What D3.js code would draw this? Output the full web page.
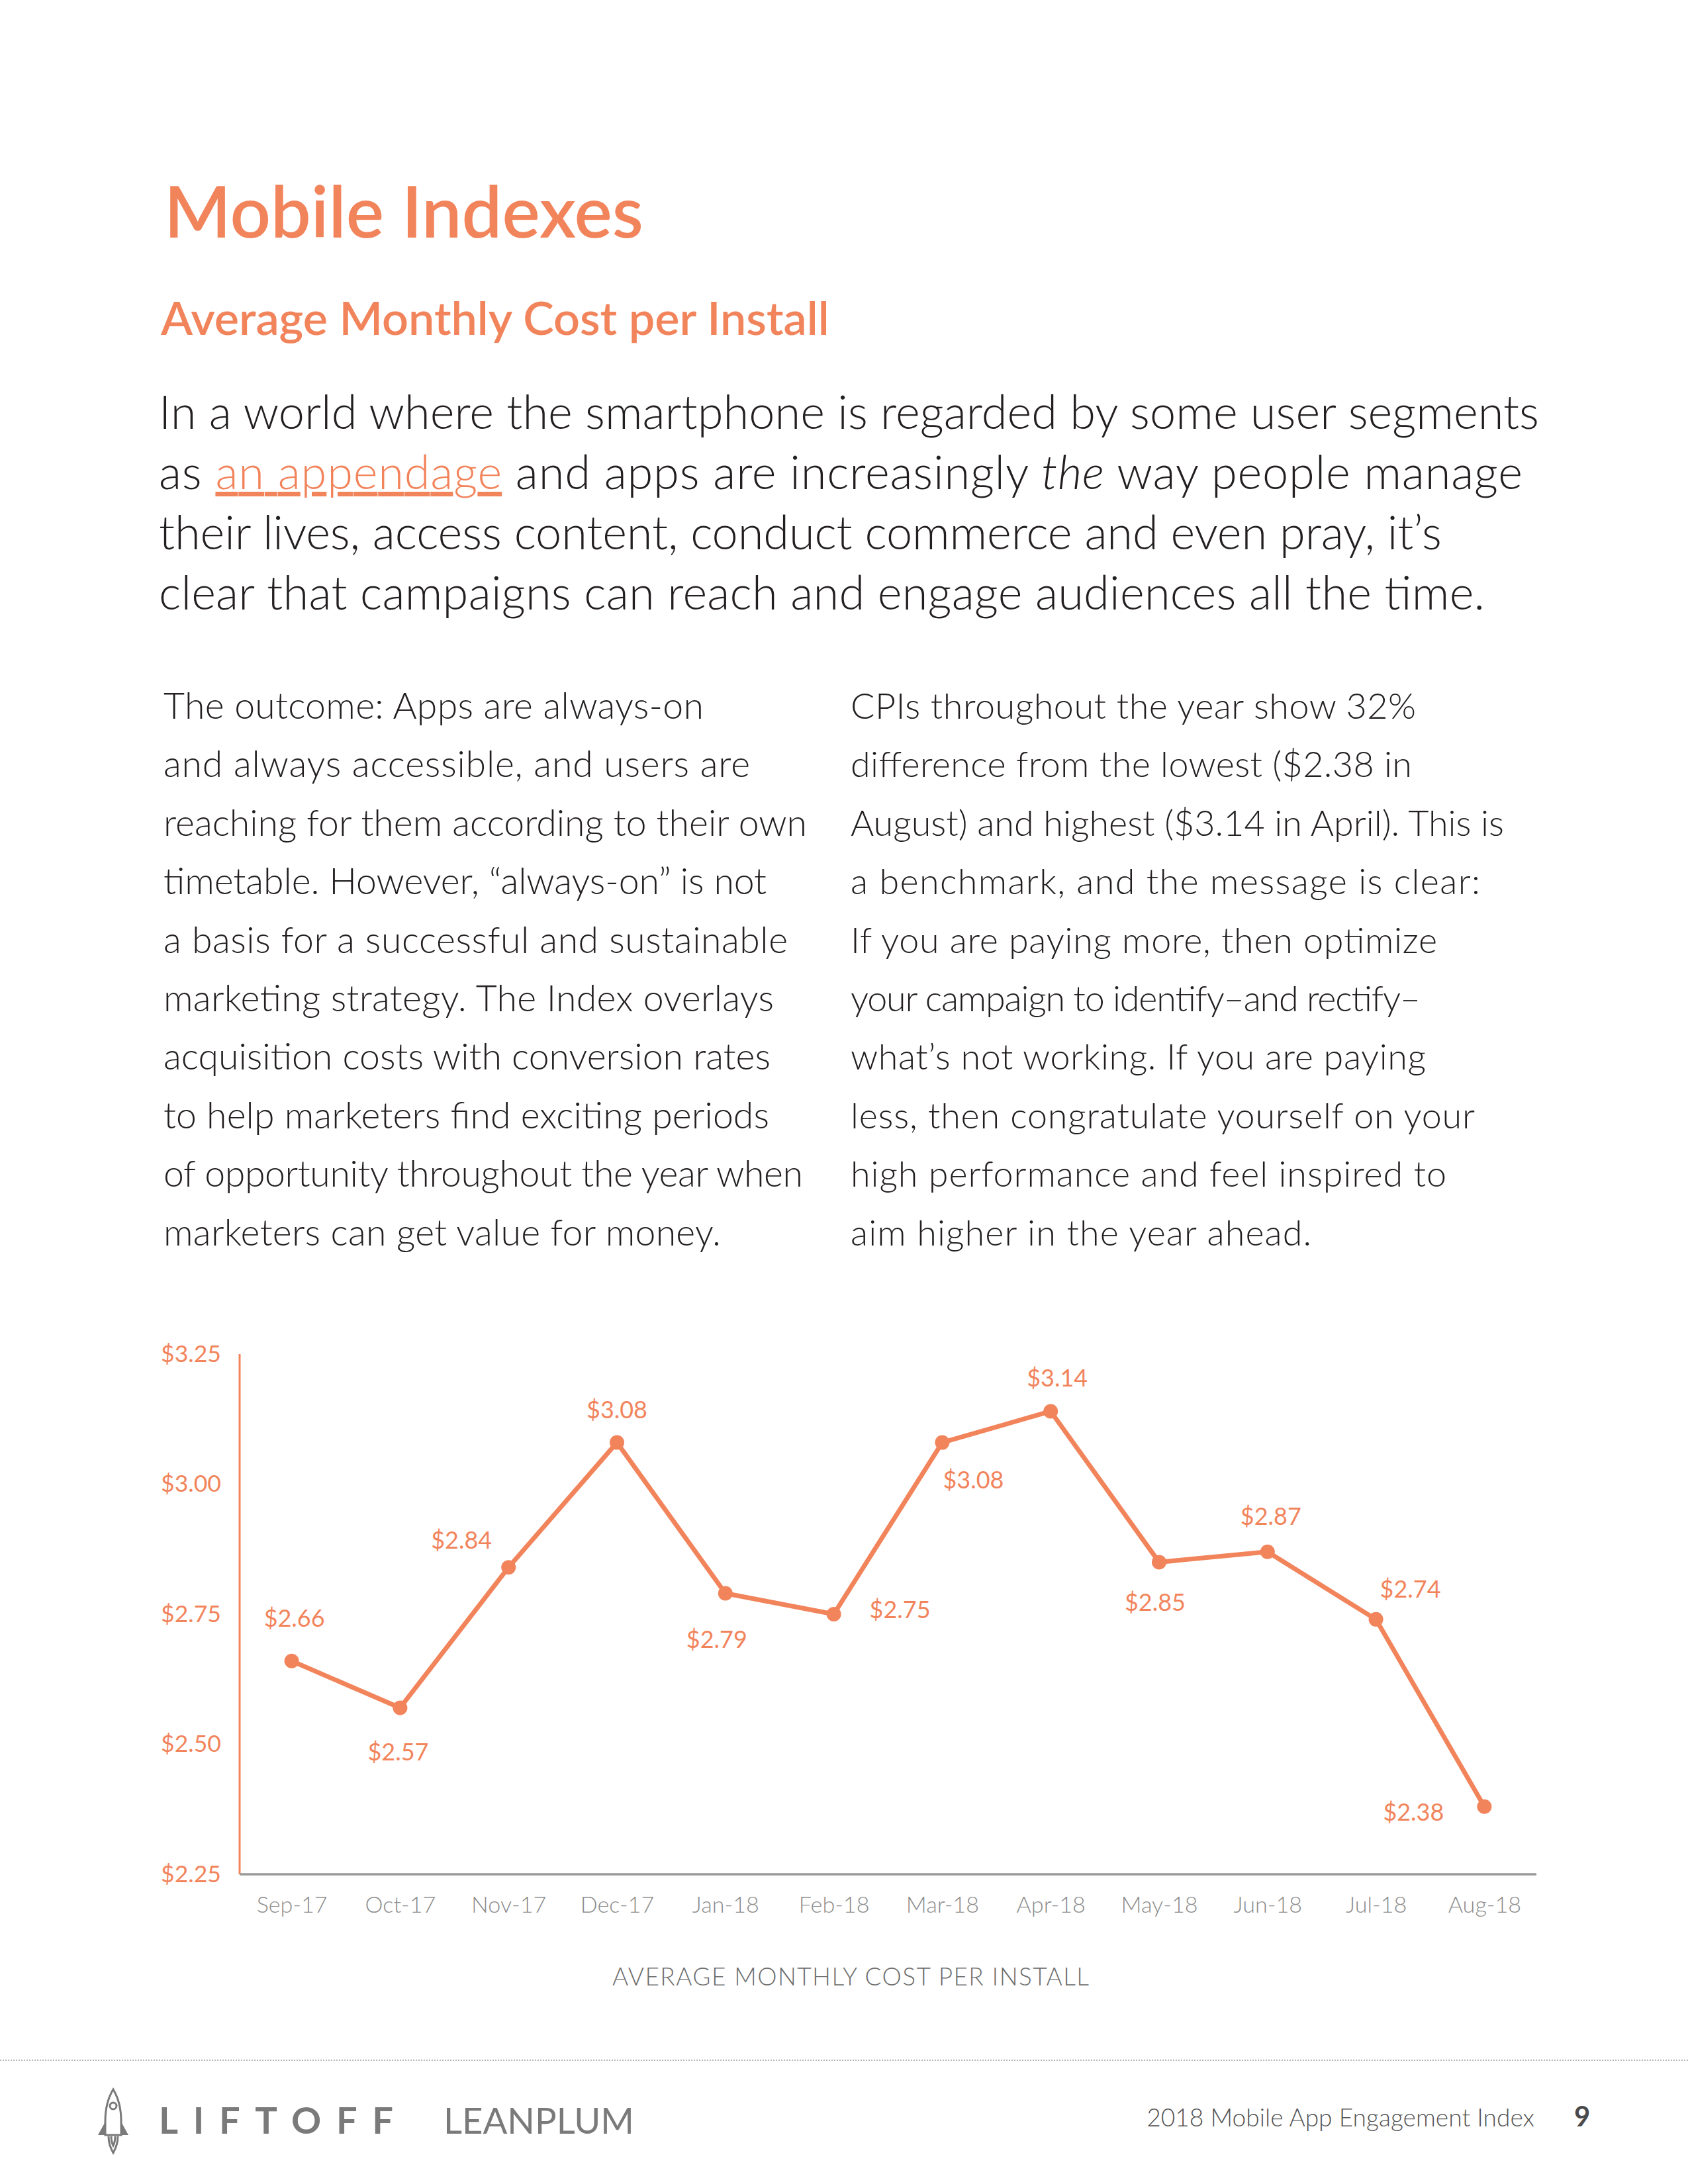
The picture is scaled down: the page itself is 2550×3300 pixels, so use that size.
<!DOCTYPE html>
<html>
<head>
<meta charset="utf-8">
<script src="https://cdn.jsdelivr.net/npm/d3@7"></script>
<style>
  html, body { margin: 0; padding: 0; background: #ffffff; }
  svg { display: block; }
</style>
</head>
<body>
<svg id="page" width="2550" height="3300"></svg>
<script>
// ---------- data ----------
const months = ["Sep-17", "Oct-17", "Nov-17", "Dec-17", "Jan-18", "Feb-18",
                "Mar-18", "Apr-18", "May-18", "Jun-18", "Jul-18", "Aug-18"];
const cpi = [2.66, 2.57, 2.84, 3.08, 2.79, 2.75, 3.08, 3.14, 2.85, 2.87, 2.74, 2.38];
const yTicks = [2.25, 2.50, 2.75, 3.00, 3.25];
const yDomain = [2.25, 3.25];
const axisTitle = "AVERAGE MONTHLY COST PER INSTALL";

// label placement relative to each point (layout, not data)
const labelOffsets = [[4, -52], [-3, 80], [-71, -28], [0, -37], [-13, 82], [100, 6],
                      [47, 69], [10, -37], [-6, 74], [5, -41], [52, -33], [-107, 21]];

// ---------- text content ----------
const pageTitle = "Mobile Indexes";
const pageSubtitle = "Average Monthly Cost per Install";
const introLines = [
  [{t: "In a world where the smartphone is regarded by some user segments"}],
  [{t: "as "}, {t: "an appendage", link: true}, {t: " and apps are increasingly "}, {t: "the", italic: true}, {t: " way people manage"}],
  [{t: "their lives, access content, conduct commerce and even pray, it\u2019s"}],
  [{t: "clear that campaigns can reach and engage audiences all the time."}]
];
const leftCol = [
  "The outcome: Apps are always-on",
  "and always accessible, and users are",
  "reaching for them according to their own",
  "timetable. However, \u201Calways-on\u201D is not",
  "a basis for a successful and sustainable",
  "marketing strategy. The Index overlays",
  "acquisition costs with conversion rates",
  "to help marketers find exciting periods",
  "of opportunity throughout the year when",
  "marketers can get value for money."
];
const rightCol = [
  "CPIs throughout the year show 32%",
  "difference from the lowest ($2.38 in",
  "August) and highest ($3.14 in April). This is",
  "a benchmark, and the message is clear:",
  "If you are paying more, then optimize",
  "your campaign to identify\u2013and rectify\u2013",
  "what\u2019s not working. If you are paying",
  "less, then congratulate yourself on your",
  "high performance and feel inspired to",
  "aim higher in the year ahead."
];
const footerText = "2018 Mobile App Engagement Index";
const pageNumber = "9";

// typeset line widths measured from the page (layout)
const introWidths = [2085, 2060, 1938, 2003];
const leftWidths = [816, 886, 972, 911, 943, 922, 917, 915, 966, 842];
const rightWidths = [854, 848, 987, 951, 886, 861, 869, 943, 900, 696];

// ---------- styles ----------
const ORANGE = "#F2845C";
const DARK = "#231f20";
const FONT = "Lato, 'Open Sans', sans-serif";

const svg = d3.select("#page");
svg.append("rect").attr("width", 2550).attr("height", 3300).attr("fill", "#fff");

function fitWidth(sel, target) {
  const n = sel.node();
  const cur = parseFloat(sel.attr("font-size"));
  const len = n.getComputedTextLength();
  const fs = cur * target / len;
  sel.attr("font-size", fs);
  return fs;
}

// ---------- headings ----------
const title = svg.append("text")
  .attr("x", 248).attr("y", 359)
  .attr("font-family", FONT).attr("font-weight", 600)
  .attr("font-size", 100).attr("fill", ORANGE)
  .text(pageTitle);
fitWidth(title, 724);

const subtitle = svg.append("text")
  .attr("x", 243).attr("y", 506)
  .attr("font-family", FONT).attr("font-weight", 600)
  .attr("font-size", 66).attr("fill", ORANGE)
  .text(pageSubtitle);
fitWidth(subtitle, 1010);

// ---------- intro paragraph ----------
const intro = svg.append("g");
const introEls = introLines.map((parts, i) => {
  const t = intro.append("text")
    .attr("x", 240).attr("y", 648 + i * 91)
    .attr("font-family", FONT).attr("font-weight", 300)
    .attr("font-size", 64).attr("fill", DARK);
  parts.forEach(p => {
    const ts = t.append("tspan").text(p.t);
    if (p.link) ts.attr("fill", ORANGE).style("text-decoration", "underline");
    if (p.italic) ts.attr("font-style", "italic");
  });
  return t;
});
{
  const len = introEls[0].node().getComputedTextLength();
  const fs = 64 * 2082 / len;
  introEls.forEach((t, i) => t.attr("font-size", fs)
    .attr("textLength", introWidths[i]).attr("lengthAdjust", "spacing"));
}

// ---------- two columns ----------
function column(lines, widths, x, refIndex) {
  const g = svg.append("g");
  const els = lines.map((l, i) => g.append("text")
    .attr("x", x).attr("y", 1086 + i * 88.4)
    .attr("font-family", FONT).attr("font-weight", 300)
    .attr("font-size", 50).attr("fill", DARK).text(l));
  const len = els[refIndex].node().getComputedTextLength();
  const fs = 50 * widths[refIndex] / len;
  els.forEach((t, i) => t.attr("font-size", fs)
    .attr("textLength", widths[i]).attr("lengthAdjust", "spacing"));
}
column(leftCol, leftWidths, 247, 2);
column(rightCol, rightWidths, 1285, 2);

// ---------- chart ----------
const x = d3.scalePoint().domain(months).range([362, 2321]).padding(0.48);
const y = d3.scaleLinear().domain(yDomain).range([2832, 2046]);

const chart = svg.append("g");

// y axis
const yAxis = chart.append("g")
  .attr("transform", "translate(362,0)")
  .call(d3.axisLeft(y).tickValues(yTicks).tickSize(0).tickPadding(28)
    .tickFormat(d => "$" + d.toFixed(2)));
yAxis.select(".domain").attr("stroke", ORANGE).attr("stroke-width", 3);
yAxis.selectAll("text")
  .attr("font-family", FONT).attr("font-size", 36).attr("fill", ORANGE);

// x axis
const xAxis = chart.append("g")
  .attr("transform", "translate(0,2832)")
  .call(d3.axisBottom(x).tickSize(0).tickPadding(34));
xAxis.select(".domain").attr("stroke", "#9a9a9a").attr("stroke-width", 3.5);
xAxis.selectAll("text")
  .attr("font-family", FONT).attr("font-weight", 300).attr("font-size", 37).attr("fill", "#8c8c8c");

// fit tick label sizes to reference widths
{
  const yt = yAxis.selectAll("text").nodes();
  const fsY = 36 * 91 / yt[yt.length - 1].getComputedTextLength();
  yAxis.selectAll("text").attr("font-size", fsY);
  const xt = xAxis.selectAll("text").nodes();
  const fsX = 37 * 107 / xt[0].getComputedTextLength();
  xAxis.selectAll("text").attr("font-size", fsX);
}
xAxis.select(".domain").attr("d", `M${x.range()[0]},0H${x.range()[1]}`);
yAxis.select(".domain").attr("d", `M0,${y.range()[0]}V${y.range()[1]}`);

// line
const pts = months.map((m, i) => ({m, v: cpi[i], off: labelOffsets[i]}));
chart.append("path")
  .datum(pts)
  .attr("fill", "none").attr("stroke", ORANGE).attr("stroke-width", 7)
  .attr("stroke-linejoin", "round")
  .attr("d", d3.line().x(d => x(d.m)).y(d => y(d.v)));

chart.selectAll("circle.pt").data(pts).join("circle")
  .attr("class", "pt")
  .attr("cx", d => x(d.m)).attr("cy", d => y(d.v)).attr("r", 11)
  .attr("fill", ORANGE);

const lbls = chart.selectAll("text.lbl").data(pts).join("text")
  .attr("class", "lbl")
  .attr("x", d => x(d.m) + d.off[0]).attr("y", d => y(d.v) + d.off[1])
  .attr("text-anchor", "middle")
  .attr("font-family", FONT).attr("font-size", 36).attr("fill", ORANGE)
  .text(d => "$" + d.v.toFixed(2));
{
  const n = lbls.nodes()[3];
  const fs = 36 * 92 / n.getComputedTextLength();
  lbls.attr("font-size", fs);
}

// axis title
svg.append("text")
  .attr("x", 1285).attr("y", 3000).attr("text-anchor", "middle")
  .attr("font-family", FONT).attr("font-weight", 300)
  .attr("font-size", 37).attr("fill", "#6e6e6e")
  .attr("textLength", 720).attr("lengthAdjust", "spacing")
  .text(axisTitle);

// ---------- footer ----------
svg.append("line")
  .attr("x1", 0).attr("x2", 2550).attr("y1", 3113).attr("y2", 3113)
  .attr("stroke", "#b5b5b5").attr("stroke-width", 2).attr("stroke-dasharray", "2,2");

// rocket icon
const rocket = svg.append("g").attr("fill", "none").attr("stroke", "#7a7a7a").attr("stroke-width", 3);
rocket.append("path").attr("d",
  "M171,3157 C162,3172 159,3190 159,3205 L159,3226 L183,3226 L183,3205 C183,3190 180,3172 171,3157 Z");
rocket.append("circle").attr("cx", 171).attr("cy", 3182).attr("r", 5);
svg.append("path").attr("fill", "#7a7a7a")
  .attr("d", "M159,3206 L148,3226 L159,3226 Z M183,3206 L194,3226 L183,3226 Z");
rocket.append("path").attr("d", "M164,3228 C164,3238 167,3246 171,3253 C175,3246 178,3238 178,3228");
rocket.append("path").attr("d", "M168,3228 C168,3234 169,3238 171,3242 C173,3238 174,3234 174,3228");

svg.append("text")
  .attr("x", 240).attr("y", 3224)
  .attr("font-family", FONT).attr("font-weight", 700)
  .attr("font-size", 56).attr("fill", "#7a7a7a")
  .attr("textLength", 354).attr("lengthAdjust", "spacing")
  .text("LIFTOFF");

const lean = svg.append("text")
  .attr("x", 670).attr("y", 3224)
  .attr("font-family", FONT).attr("font-weight", 400)
  .attr("font-size", 56).attr("fill", "#7a7a7a")
  .text("LEANPLUM");
fitWidth(lean, 288);

const ft = svg.append("text")
  .attr("x", 2318).attr("y", 3213).attr("text-anchor", "end")
  .attr("font-family", FONT).attr("font-weight", 300)
  .attr("font-size", 36).attr("fill", "#555555")
  .text(footerText);
fitWidth(ft, 586);

svg.append("text")
  .attr("x", 2378).attr("y", 3213)
  .attr("font-family", FONT).attr("font-weight", 700)
  .attr("font-size", 42).attr("fill", "#4a4a4a")
  .text(pageNumber);
</script>
</body>
</html>
